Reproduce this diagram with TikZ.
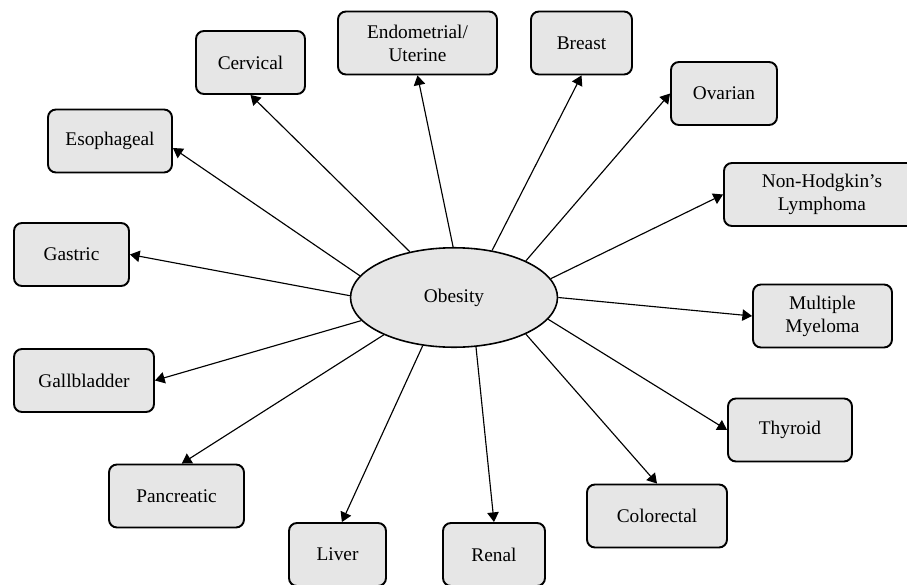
\documentclass[tikz,border=0pt]{standalone}
\usepackage{fontspec}
\setmainfont{Liberation Serif}
\usepackage{tikz}
\usetikzlibrary{arrows.meta,shapes.geometric}
\definecolor{grigio}{HTML}{E6E6E6}

\tikzset{
    riquadro/.style={draw, line width=1.1pt, rounded corners=4.5pt, fill=grigio,
        minimum height=1.26cm, align=center, inner sep=2pt,
        font=\fontsize{11}{13}\selectfont},
    freccia/.style={line width=0.65pt, -{Triangle[length=5.5pt,width=6.5pt]}}
}

\begin{document}
\begin{tikzpicture}[x=0.02cm, y=-0.02cm]
\useasboundingbox (0,0) rectangle (907,585);

% Nodo centrale
\node[draw, ellipse, line width=0.9pt, fill=grigio, minimum width=4.14cm,
      minimum height=1.99cm, inner sep=0pt, font=\fontsize{11}{13}\selectfont]
      (obesita) at (454,297.5) {Obesity};

% Riquadri
\node[riquadro, minimum width=2.18cm] (cervical)    at (250.5,62.5) {Cervical};
\node[riquadro, minimum width=3.18cm] (endometrial) at (417.5,43)   {Endometrial/\\Uterine};
\node[riquadro, minimum width=2.02cm] (breast)      at (581.5,43)   {Breast};
\node[riquadro, minimum width=2.12cm] (ovarian)     at (724,93.5)   {Ovarian};
\node[riquadro, minimum width=3.92cm] (lymphoma)    at (822,194.5)  {Non-Hodgkin’s\\Lymphoma};
\node[riquadro, minimum width=2.78cm] (myeloma)     at (822.5,316)  {Multiple\\Myeloma};
\node[riquadro, minimum width=2.48cm] (thyroid)     at (790,430)    {Thyroid};
\node[riquadro, minimum width=2.80cm] (colorectal)  at (657,516)    {Colorectal};
\node[riquadro, minimum width=2.04cm] (renal)       at (494,554.5)  {Renal};
\node[riquadro, minimum width=1.94cm] (liver)       at (337.5,554.5) {Liver};
\node[riquadro, minimum width=2.70cm] (pancreatic)  at (176.5,496)  {Pancreatic};
\node[riquadro, minimum width=2.80cm] (gallbladder) at (84,380.5)   {Gallbladder};
\node[riquadro, minimum width=2.30cm] (gastric)     at (71.5,254.5) {Gastric};
\node[riquadro, minimum width=2.48cm] (esophageal)  at (110,141)    {Esophageal};

% Frecce
\foreach \a/\b in {134/cervical.south, 91/endometrial.south, 51/breast.south,
                   27/ovarian.west, 11.5/lymphoma.west, 0/myeloma.west,
                   -13.5/thyroid.west, -27.5/colorectal.north, -66/renal.north,
                   179/gastric.east, -166/gallbladder.east}
    \draw[freccia] (obesita.\a) -- (\b);

\draw[freccia] (obesita.-123) -- ([xshift=2.5pt]liver.north);
\draw[freccia] (obesita.-152) -- ([xshift=3pt]pancreatic.north);
\draw[freccia] (obesita.167) -- ([yshift=-4pt]esophageal.east);
\end{tikzpicture}
\end{document}
